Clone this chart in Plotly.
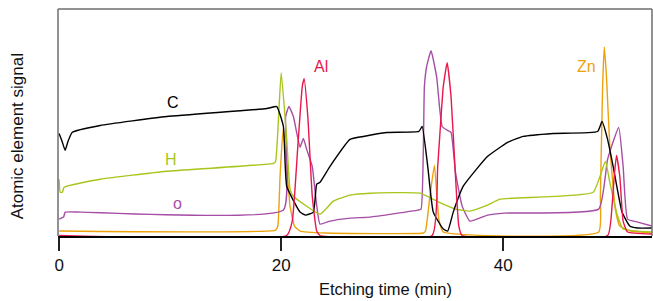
import plotly.graph_objects as go

# Etching time (min) and signal (arbitrary units) for each element
c_t = [0, 0.27, 0.54, 0.8, 1.17, 3.7, 9.7, 18.7, 19.6, 20.2, 20.5, 21.7, 22.2, 22.9, 23.2, 23.5, 24.4, 26.2, 27.4, 29.5, 32.4, 32.7, 33.2, 33.7, 34.6, 35.0, 35.5, 36.4, 38.6, 40.4, 41.8, 44.5, 48.5, 48.9, 49.4, 49.9, 50.7, 51.4, 52.1, 53.4]
c_s = [103, 95, 86, 95, 104, 111, 120, 128, 130, 110, 50, 24, 21, 24, 52, 54, 70, 97, 100, 104, 105, 110, 70, 24, 7, 5, 24, 50, 80, 94, 100, 103, 105, 115, 97, 70, 24, 10, 8, 8]

h_t = [0, 0.1, 0.3, 0.45, 3.7, 9.7, 19.3, 19.5, 20.0, 20.5, 20.8, 21.1, 23.5, 24.7, 26.2, 28.0, 32.5, 34.2, 35.7, 37.0, 38.6, 39.7, 48.1, 49.2, 49.6, 50.3, 50.8, 53.4]
h_s = [57, 44, 44, 49, 57, 65, 73, 75, 164, 97, 47, 40, 22, 35, 41, 43, 43, 34, 27, 25, 31, 37, 44, 75, 54, 20, 7, 4]

o_t = [0, 0.4, 0.55, 2.0, 20.2, 20.4, 20.7, 21.1, 21.7, 22.0, 22.3, 22.8, 23.1, 23.5, 24.4, 26.2, 28.0, 32.3, 32.6, 32.9, 33.1, 33.5, 34.0, 34.5, 35.0, 35.3, 35.7, 36.3, 37.0, 38.6, 40.1, 48.6, 49.4, 50.4, 50.8, 51.2, 52.1, 53.4]
o_s = [17, 19, 24, 24, 26, 120, 130, 120, 89, 98, 87, 70, 40, 12, 15, 18, 19, 26, 27, 150, 170, 186, 160, 110, 106, 104, 64, 30, 15, 21, 23, 27, 77, 109, 70, 17, 14, 10]

al_t = [0, 20.5, 21.0, 21.5, 21.9, 22.07, 22.4, 22.8, 23.2, 23.5, 33.6, 34.1, 34.6, 34.95, 35.3, 35.7, 36.0, 36.3, 49.4, 49.8, 50.0, 50.2, 50.5, 50.8, 51.2, 53.4]
al_s = [0.5, 0.5, 15, 90, 150, 158, 120, 40, 5, 0.5, 0.5, 70, 150, 174, 140, 60, 10, 0.5, 0.5, 30, 60, 81, 60, 15, 4, 2]

zn_t = [0, 19.5, 19.7, 19.9, 20.18, 20.5, 20.8, 21.2, 21.7, 24.0, 32.8, 33.0, 33.4, 33.8, 34.2, 34.6, 48.6, 48.75, 48.95, 49.1, 49.3, 49.6, 50.1, 50.5, 51.5, 53.4]
zn_s = [5, 6, 10, 60, 108, 70, 30, 10, 5, 3, 3, 5, 40, 71, 17, 4, 4, 40, 150, 190, 160, 90, 27, 10, 5, 3]

x_ticks = [0, 20, 40]

series = [
    ("Zn", zn_t, zn_s, "#eda20c"),
    ("O", o_t, o_s, "#a54ea5"),
    ("H", h_t, h_s, "#a6c61c"),
    ("C", c_t, c_s, "#000000"),
    ("Al", al_t, al_s, "#e8174d"),
]

fig = go.Figure()
for name, t, s, col in series:
    fig.add_trace(go.Scatter(x=t, y=s, mode="lines", name=name,
                             line=dict(color=col, width=1.4, shape="spline", smoothing=0.4),
                             showlegend=False, hoverinfo="skip"))

font = "Liberation Sans, Arial, Helvetica, sans-serif"

labels = [
    ("C", 10.3, 134, "#000000"),
    ("H", 10.1, 77, "#a6c61c"),
    ("o", 10.7, 33, "#a54ea5"),
    ("Al", 23.6, 170, "#e8174d"),
    ("Zn", 47.5, 170, "#eda20c"),
]
for txt, x, y, col in labels:
    fig.add_annotation(x=x, y=y, text=txt, showarrow=False,
                       font=dict(family=font, size=16, color=col))

fig.add_annotation(xref="paper", yref="paper", x=-0.088, y=0.44, text="Atomic element signal",
                   textangle=-90, showarrow=False, font=dict(family=font, size=17, color="#111"))
fig.add_annotation(x=29.4, yref="paper", y=-0.235, text="Etching time (min)", showarrow=False,
                   yanchor="middle", font=dict(family=font, size=16.5, color="#111"))

# frame (left, top, right)
for x0, y0, x1, y1 in [(0, 0, 0, 1), (0, 1, 1, 1), (1, 0, 1, 1)]:
    fig.add_shape(type="line", xref="paper", yref="paper", x0=x0, y0=y0, x1=x1, y1=y1,
                  line=dict(color="#6e6e6e", width=1.5))

fig.update_layout(
    width=653, height=301,
    margin=dict(l=58, r=1, t=9, b=65),
    paper_bgcolor="white", plot_bgcolor="white",
    xaxis=dict(range=[-0.1, 53.4], tickvals=x_ticks, ticks="outside", ticklen=13, tickwidth=1.5,
               tickcolor="#222", showline=True, linecolor="#000", linewidth=1.5, showgrid=False,
               zeroline=False, tickfont=dict(family=font, size=17, color="#111")),
    yaxis=dict(range=[0, 228], showticklabels=False, ticks="", showgrid=False, zeroline=False,
               showline=False),
)

fig.write_html("out.html", config={"displayModeBar": False},
               post_script="document.body.style.margin='0';document.body.style.overflow='hidden';")
